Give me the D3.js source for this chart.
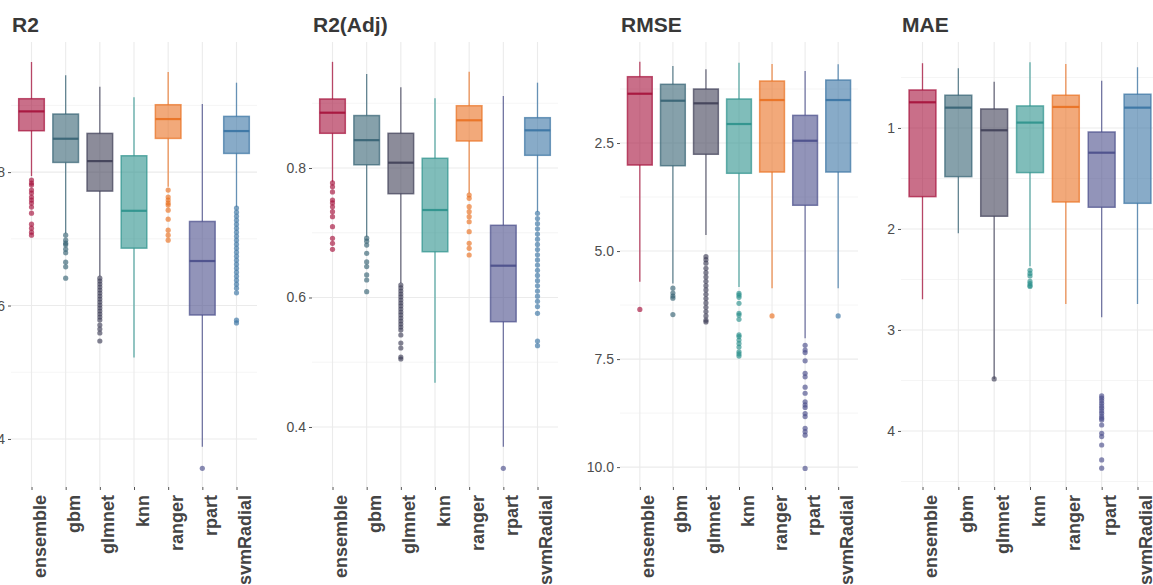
<!DOCTYPE html>
<html>
<head>
<meta charset="utf-8">
<script src="https://cdn.jsdelivr.net/npm/d3@7"></script>
<style>
  body { margin: 0; background: #fff; overflow: hidden; }
  svg { display: block; font-family: "Liberation Sans", Arial, sans-serif; }
</style>
</head>
<body>
<svg id="chart" width="1153" height="585"></svg>
<script>
const models = ["ensemble", "gbm", "glmnet", "knn", "ranger", "rpart", "svmRadial"];
const colors = ["#a50f3a", "#356273", "#3f3f57", "#2b918c", "#e97021", "#494d8a", "#3973a3"];

// each row: [lower whisker, q1, median, q3, upper whisker]
const r2Box = [
  [0.794, 0.862, 0.891, 0.910, 0.965],
  [0.7085, 0.8145, 0.850, 0.887, 0.945],
  [0.644, 0.7715, 0.8165, 0.858, 0.928],
  [0.522, 0.686, 0.742, 0.8245, 0.912],
  [0.778, 0.8505, 0.8795, 0.901, 0.950],
  [0.3885, 0.5858, 0.6667, 0.726, 0.902],
  [0.748, 0.828, 0.8615, 0.8835, 0.934]
];
const r2Out = [
  [0.788, 0.7835, 0.7805, 0.773, 0.7685, 0.7625, 0.758, 0.7535, 0.7475, 0.7385, 0.722, 0.716, 0.710, 0.7055],
  [0.7055, 0.698, 0.6935, 0.691, 0.6845, 0.679, 0.665, 0.658, 0.641],
  [0.641, 0.6367, 0.6322, 0.6277, 0.6232, 0.6187, 0.6142, 0.6097, 0.6052, 0.6007, 0.5963, 0.5918, 0.5873, 0.5828, 0.5783, 0.5708, 0.5648, 0.5588, 0.5468],
  [],
  [0.773, 0.7625, 0.758, 0.7535, 0.7505, 0.743, 0.7295, 0.713, 0.7055, 0.698],
  [0.356],
  [0.746, 0.740, 0.734, 0.728, 0.722, 0.716, 0.710, 0.704, 0.698, 0.692, 0.686, 0.680, 0.674, 0.668, 0.662, 0.656, 0.650, 0.644, 0.638, 0.632, 0.626, 0.619, 0.578, 0.574]
];

const r2AdjBox = [
  [0.779, 0.8536, 0.8854, 0.9066, 0.964],
  [0.694, 0.805, 0.843, 0.881, 0.945],
  [0.6224, 0.7603, 0.8082, 0.8536, 0.9246],
  [0.4684, 0.6707, 0.7351, 0.815, 0.9076],
  [0.761, 0.8417, 0.8737, 0.8962, 0.9487],
  [0.3696, 0.5626, 0.6491, 0.7115, 0.9111],
  [0.7325, 0.8196, 0.8582, 0.8777, 0.9318]
];
const r2AdjOut = [
  [0.777, 0.771, 0.763, 0.7506, 0.746, 0.740, 0.7325, 0.7248, 0.7094, 0.6914, 0.6837, 0.6744],
  [0.6916, 0.687, 0.681, 0.6682, 0.655, 0.6477, 0.6348, 0.627, 0.609],
  [0.6193, 0.6147, 0.61, 0.6054, 0.6008, 0.5961, 0.5915, 0.5869, 0.5822, 0.5776, 0.573, 0.5683, 0.5637, 0.559, 0.5544, 0.5498, 0.5421, 0.5297, 0.522, 0.5081, 0.505],
  [],
  [0.7583, 0.7532, 0.7402, 0.7325, 0.7248, 0.717, 0.7016, 0.6837, 0.676, 0.6656],
  [0.3362],
  [0.730, 0.722, 0.714, 0.706, 0.698, 0.690, 0.682, 0.674, 0.666, 0.658, 0.650, 0.642, 0.634, 0.626, 0.618, 0.610, 0.602, 0.594, 0.586, 0.5756, 0.5328, 0.5256]
];

const rmseBox = [
  [0.618, 0.965, 1.359, 3.009, 5.71],
  [0.718, 1.141, 1.521, 3.025, 5.75],
  [0.794, 1.25, 1.581, 2.76, 4.63],
  [0.641, 1.481, 2.06, 3.20, 5.83],
  [0.671, 1.065, 1.505, 3.171, 5.86],
  [0.833, 1.86, 2.447, 3.94, 7.02],
  [0.678, 1.042, 1.505, 3.171, 5.86]
];
const rmseOut = [
  [6.35],
  [5.86, 5.97, 6.04, 6.09, 6.47],
  [5.13, 5.2, 5.28, 5.4, 5.5, 5.6, 5.7, 5.8, 5.9, 6.0, 6.1, 6.2, 6.3, 6.4, 6.5, 6.6, 6.64],
  [5.98, 6.02, 6.07, 6.21, 6.44, 6.48, 6.58, 6.94, 6.98, 7.06, 7.14, 7.22, 7.33, 7.38, 7.43],
  [6.50],
  [7.18, 7.29, 7.35, 7.54, 7.83, 7.91, 8.15, 8.29, 8.49, 8.56, 8.62, 8.76, 8.83, 9.1, 9.18, 9.26, 10.03],
  [6.50]
];

const maeBox = [
  [0.359, 0.624, 0.746, 1.68, 2.696],
  [0.409, 0.676, 0.799, 1.482, 2.043],
  [0.542, 0.812, 1.023, 1.874, 3.485],
  [0.35, 0.782, 0.947, 1.442, 2.37],
  [0.366, 0.676, 0.792, 1.733, 2.743],
  [0.532, 1.04, 1.245, 1.785, 2.874],
  [0.399, 0.666, 0.799, 1.746, 2.743]
];
const maeOut = [
  [],
  [],
  [3.485],
  [2.41, 2.44, 2.465, 2.52, 2.54, 2.56, 2.57],
  [],
  [3.653, 3.676, 3.7, 3.726, 3.752, 3.775, 3.802, 3.825, 3.852, 3.874, 3.891, 3.941, 4.023, 4.056, 4.139, 4.287, 4.369],
  []
];

const r2Ticks = [0.4, 0.6, 0.8];
const r2Minor = [0.5, 0.7, 0.9];
const rmseTicks = [2.5, 5.0, 7.5, 10.0];
const rmseMinor = [1.25, 3.75, 6.25, 8.75];
const maeTicks = [1, 2, 3, 4];
const maeMinor = [0.5, 1.5, 2.5, 3.5, 4.5];

const plotTop = 42, plotBottom = 487;

const panels = [
  { title: "R2", box: r2Box, out: r2Out, left: 11, right: 257, domain: [0.328, 0.995], reverse: false, ticks: r2Ticks, minor: r2Minor, fmt: ".1f" },
  { title: "R2(Adj)", box: r2AdjBox, out: r2AdjOut, left: 312, right: 558, domain: [0.3073, 0.9946], reverse: false, ticks: r2Ticks, minor: r2Minor, fmt: ".1f" },
  { title: "RMSE", box: rmseBox, out: rmseOut, left: 620, right: 858, domain: [0.162, 10.46], reverse: true, ticks: rmseTicks, minor: rmseMinor, fmt: ".1f" },
  { title: "MAE", box: maeBox, out: maeOut, left: 901, right: 1159, domain: [0.149, 4.555], reverse: true, ticks: maeTicks, minor: maeMinor, fmt: "d" }
];

const svg = d3.select("#chart");

panels.forEach(p => {
  const g = svg.append("g");

  const x = d3.scalePoint().domain(models).range([p.left, p.right]).padding(0.6);
  const y = d3.scaleLinear().domain(p.domain)
    .range(p.reverse ? [plotTop, plotBottom] : [plotBottom, plotTop]);
  const bw = x.step() * 0.75;

  // grid
  g.selectAll(".minor").data(p.minor).enter().append("line")
    .attr("x1", p.left).attr("x2", p.right)
    .attr("y1", d => y(d)).attr("y2", d => y(d))
    .attr("stroke", "#f2f2f2").attr("stroke-width", 0.8);
  g.selectAll(".major").data(p.ticks).enter().append("line")
    .attr("x1", p.left).attr("x2", p.right)
    .attr("y1", d => y(d)).attr("y2", d => y(d))
    .attr("stroke", "#ebebeb").attr("stroke-width", 1.1);
  g.selectAll(".vgrid").data(models).enter().append("line")
    .attr("x1", d => x(d)).attr("x2", d => x(d))
    .attr("y1", plotTop).attr("y2", plotBottom)
    .attr("stroke", "#ebebeb").attr("stroke-width", 1.1);

  // y axis
  const yAxis = g.append("g")
    .attr("transform", `translate(${p.left},0)`)
    .call(d3.axisLeft(y).tickValues(p.ticks).tickSize(3).tickPadding(3).tickFormat(d3.format(p.fmt)));
  yAxis.select(".domain").remove();
  yAxis.selectAll(".tick line").attr("stroke", "#555");
  yAxis.selectAll("text").attr("fill", "#4d4d4d").style("font-size", "14px");

  // x axis
  const xAxis = g.append("g")
    .attr("transform", `translate(0,${plotBottom})`)
    .call(d3.axisBottom(x).tickSize(3));
  xAxis.select(".domain").remove();
  xAxis.selectAll(".tick line").attr("stroke", "#555");
  xAxis.selectAll("text")
    .attr("transform", "rotate(-90)")
    .attr("x", -8).attr("y", 14).attr("dy", null)
    .attr("text-anchor", "end")
    .attr("fill", "#444")
    .style("font-size", "18px").style("font-weight", "bold");

  // title
  g.append("text")
    .attr("x", p.left + 1).attr("y", 32)
    .attr("fill", "#383838")
    .style("font-size", "21px").style("font-weight", "bold")
    .text(p.title);

  // boxes
  const items = models.map((m, i) => ({ m, c: colors[i], s: p.box[i], o: p.out[i] }));
  const bx = g.selectAll(".bx").data(items).enter().append("g");

  bx.append("line")
    .attr("x1", d => x(d.m)).attr("x2", d => x(d.m))
    .attr("y1", d => y(d.s[0])).attr("y2", d => y(d.s[1]))
    .attr("stroke", d => d.c).attr("stroke-opacity", 0.75).attr("stroke-width", 1.3);
  bx.append("line")
    .attr("x1", d => x(d.m)).attr("x2", d => x(d.m))
    .attr("y1", d => y(d.s[3])).attr("y2", d => y(d.s[4]))
    .attr("stroke", d => d.c).attr("stroke-opacity", 0.75).attr("stroke-width", 1.3);
  bx.append("rect")
    .attr("x", d => x(d.m) - bw / 2).attr("width", bw)
    .attr("y", d => Math.min(y(d.s[1]), y(d.s[3])))
    .attr("height", d => Math.abs(y(d.s[1]) - y(d.s[3])))
    .attr("fill", d => d.c).attr("fill-opacity", 0.6)
    .attr("stroke", d => d.c).attr("stroke-opacity", 0.7).attr("stroke-width", 1.5);
  bx.append("line")
    .attr("x1", d => x(d.m) - bw / 2).attr("x2", d => x(d.m) + bw / 2)
    .attr("y1", d => y(d.s[2])).attr("y2", d => y(d.s[2]))
    .attr("stroke", d => d.c).attr("stroke-opacity", 0.9).attr("stroke-width", 2.2);

  bx.selectAll("circle").data(d => d.o.map(v => ({ v, m: d.m, c: d.c }))).enter().append("circle")
    .attr("cx", d => x(d.m)).attr("cy", d => y(d.v)).attr("r", 2.6)
    .attr("fill", d => d.c).attr("fill-opacity", 0.65);
});
</script>
</body>
</html>
